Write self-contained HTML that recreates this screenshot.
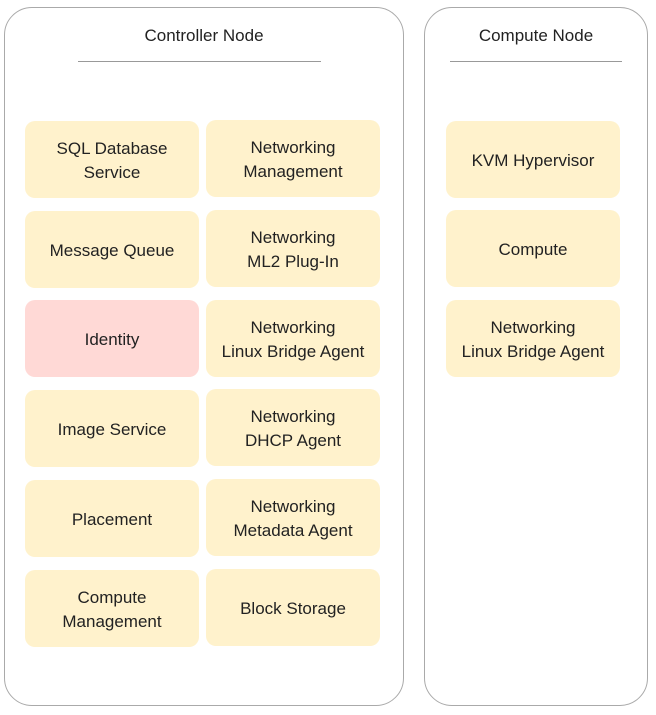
<!DOCTYPE html>
<html><head><style>
body{margin:0;width:656px;height:715px;background:#fff;position:relative;font-family:"Liberation Sans",sans-serif;color:#222}
.c{position:absolute;border:1px solid #aaa;border-radius:28px;box-sizing:border-box}
.t{position:absolute;text-align:center;font-size:17px}
.l{position:absolute;height:1px;background:#999}
.b{position:absolute;width:174px;height:77px;background:#fff2cc;border-radius:10px;display:flex;align-items:center;justify-content:center;text-align:center;font-size:17px;line-height:24px;padding-top:3px;box-sizing:border-box}
</style></head><body>
<div class="c" style="left:4px;top:7px;width:400px;height:699px"></div>
<div class="c" style="left:424px;top:7px;width:224px;height:699px"></div>
<div class="t" style="left:4px;width:400px;top:26px">Controller Node</div>
<div class="l" style="left:78px;width:243px;top:61px"></div>
<div class="t" style="left:424px;width:224px;top:26px">Compute Node</div>
<div class="l" style="left:450px;width:172px;top:61px"></div>

<div class="b" style="left:25px;top:121px">SQL Database<br>Service</div>
<div class="b" style="left:206px;top:120px">Networking<br>Management</div>
<div class="b" style="left:25px;top:211px">Message Queue</div>
<div class="b" style="left:206px;top:210px">Networking<br>ML2 Plug-In</div>
<div class="b" style="left:25px;top:300px;background:#ffd9d6">Identity</div>
<div class="b" style="left:206px;top:300px">Networking<br>Linux Bridge Agent</div>
<div class="b" style="left:25px;top:390px">Image Service</div>
<div class="b" style="left:206px;top:389px">Networking<br>DHCP Agent</div>
<div class="b" style="left:25px;top:480px">Placement</div>
<div class="b" style="left:206px;top:479px">Networking<br>Metadata Agent</div>
<div class="b" style="left:25px;top:570px">Compute<br>Management</div>
<div class="b" style="left:206px;top:569px">Block Storage</div>

<div class="b" style="left:446px;top:121px">KVM Hypervisor</div>
<div class="b" style="left:446px;top:210px">Compute</div>
<div class="b" style="left:446px;top:300px">Networking<br>Linux Bridge Agent</div>
</body></html>
